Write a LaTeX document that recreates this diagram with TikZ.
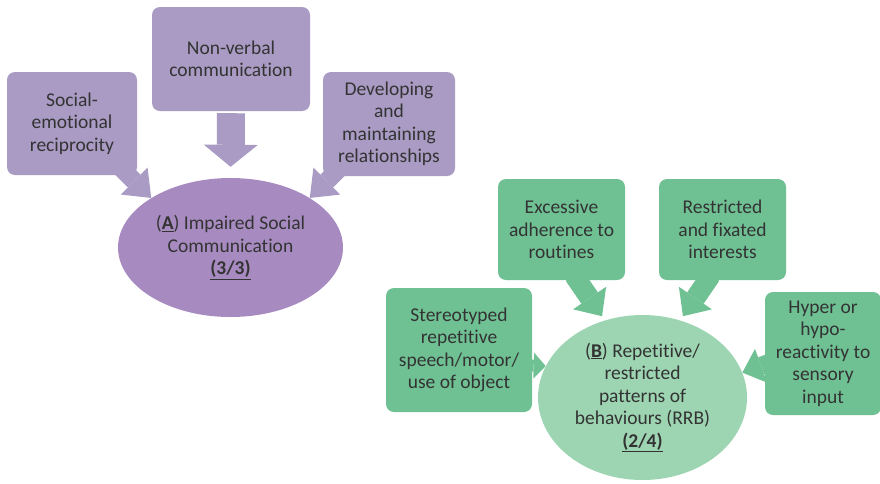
\documentclass[tikz,border=0pt]{standalone}
\usepackage{fontspec}
\setmainfont[Ligatures={NoCommon}]{Carlito}
\usetikzlibrary{positioning,arrows.meta,shapes.geometric,calc,backgrounds}
\definecolor{lilac}{HTML}{A99BC3}
\definecolor{lilacdeep}{HTML}{A78BC0}
\definecolor{mint}{HTML}{6FC194}
\definecolor{mintpale}{HTML}{9DD5B2}
\definecolor{ink}{HTML}{333333}

\begin{document}
\begin{tikzpicture}[x=1pt, y=-1pt, font=\fontsize{19.5}{22.5}\selectfont, text=ink,
  box/.style={rounded corners=8pt, align=center, inner sep=0pt},
  lilacbox/.style={box, fill=lilac}, mintbox/.style={box, fill=mint},
  hub/.style={ellipse, align=center, inner sep=0pt},
  fat/.style n args={3}{line width=#1, -{Triangle[width=#2 0 0, length=#3 0 0, line width=0pt]}}]
\useasboundingbox (0,0) rectangle (880,483);
% (A) social communication
\node[lilacbox, minimum width=130pt, minimum height=103pt] (soc) at (72,123.5) {Social-\\emotional\\reciprocity};
\node[lilacbox, minimum width=158pt, minimum height=104pt] (nvc) at (231,59) {Non-verbal\\communication};
\node[lilacbox, minimum width=132pt, minimum height=104pt] (dev) at (389,124) {Developing\\and\\maintaining\\relationships};
\node[hub, fill=lilacdeep, minimum width=225pt, minimum height=139pt] (isc) at (230.5,247.5) {(\textbf{\underline{A}}) Impaired Social\\Communication\\\textbf{\underline{(3/3)}}};
% (B) repetitive behaviours
\node[mintbox, minimum width=127pt, minimum height=101pt] (exc) at (561.5,229.5) {Excessive\\adherence to\\routines};
\node[mintbox, minimum width=127pt, minimum height=101pt] (rfi) at (722.5,229.5) {Restricted\\and fixated\\interests};
\node[mintbox, minimum width=146pt, minimum height=124pt] (ste) at (459,350) {Stereotyped\\repetitive\\speech/motor/\\use of object};
\node[mintbox, minimum width=116pt, minimum height=123pt] (hyp) at (823,353.5) {Hyper or\\hypo-\\reactivity to\\sensory\\input};
\node[hub, fill=mintpale, minimum width=209pt, minimum height=165pt] (rrb) at (642.5,397.5) {(\textbf{\underline{B}}) Repetitive/\\restricted\\patterns of\\behaviours (RRB)\\\textbf{\underline{(2/4)}}};
\begin{scope}[on background layer]
\draw[lilac, fat={18pt}{38pt}{24pt}] ($(soc.south east)+(-21,-12)$) -- (isc.148);
\draw[lilac, fat={28pt}{54pt}{22pt}, shorten <=2pt, shorten >=11pt] (nvc.south) -- (isc.north);
\draw[lilac, fat={18pt}{38pt}{24pt}] ($(dev.south west)+(21,-12)$) -- (isc.32);
\draw[mint, fat={20pt}{40pt}{22pt}, shorten >=5pt] ($(exc.south)+(12.5,-5)$) -- (rrb.116);
\draw[mint, fat={20pt}{40pt}{22pt}, shorten >=5pt] ($(rfi.south)+(-11.5,-5)$) -- (rrb.64);
\draw[mint, fat={12pt}{26pt}{12pt}] ($(ste.east)+(-17,15)$) -- (rrb.162);
\draw[mint, fat={18pt}{36pt}{20pt}] ($(hyp.west)+(22,3)$) -- (rrb.14);
\end{scope}
\end{tikzpicture}
\end{document}
